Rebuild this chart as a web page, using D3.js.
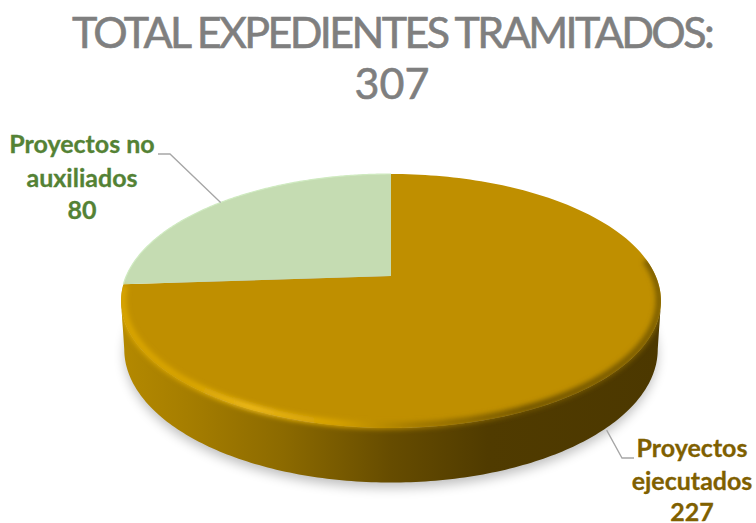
<!DOCTYPE html>
<html><head><meta charset="utf-8">
<script src="https://cdn.jsdelivr.net/npm/d3@7"></script>
<style>html,body{margin:0;padding:0;background:#fff}svg{display:block}</style>
</head><body><svg id="c" width="756" height="523"></svg>
<script>
const titleLines = ["TOTAL EXPEDIENTES TRAMITADOS:", "307"];
const categories = ["Proyectos ejecutados", "Proyectos no auxiliados"];
const values = [227, 80];
const labelLines = [["Proyectos", "ejecutados", "227"], ["Proyectos no", "auxiliados", "80"]];
const fillColors = ["#bf8f00", "#c5dcb2"];
const textColors = ["#7f6000", "#548235"];

const svg = d3.select("#c");
const defs = svg.append("defs");
const cx = 391, cy = 276, k = 0.1968, depth = 47;
const sx = d3.scaleLinear().domain([-1, 1]).range([cx - 264.7, cx + 264.7]);
const sy = d3.scaleLinear().domain([-1, 1]).range([cy - 122.07, cy + 122.07]);
function proj(a, s = 1, dy = 0, v = 1) {
  const x = Math.sin(a), y = -Math.cos(a), w = 1 - k * y;
  return [cx + (sx(x / w) - cx) * s, cy + (sy(y / w) - cy) * v + dy];
}
const line = d3.line();
const arcPts = (a0, a1, s, dy, v) => d3.range(0, 181).map(i => proj(a0 + (a1 - a0) * i / 180, s, dy, v));
const pie = d3.pie().sort(null).value(d => d)(values);
const TAU = Math.PI * 2;

const wall = defs.append("linearGradient").attr("id", "wall").attr("gradientUnits", "userSpaceOnUse")
  .attr("x1", 121).attr("x2", 661).attr("y1", 0).attr("y2", 0);
[[0, "#b48900"], [.12, "#a67e00"], [.3, "#8c6a00"], [.5, "#664c00"], [.68, "#503b00"], [1, "#4c3800"]]
  .forEach(([o, c]) => wall.append("stop").attr("offset", o).attr("stop-color", c));
const rim = defs.append("linearGradient").attr("id", "rim").attr("gradientUnits", "userSpaceOnUse")
  .attr("x1", 121).attr("x2", 661).attr("y1", 0).attr("y2", 0);
[[0, "#d9a500"], [.12, "#d9a500"], [.24, "#efbb18"], [.4, "#d6a200"], [.55, "#a07800"], [.75, "#6f5300"], [1, "#7d5e00"]]
  .forEach(([o, c]) => rim.append("stop").attr("offset", o).attr("stop-color", c));
defs.append("filter").attr("id", "b6").attr("x", "-20%").attr("y", "-20%").attr("width", "140%").attr("height", "140%")
  .append("feGaussianBlur").attr("stdDeviation", 6);
defs.append("filter").attr("id", "b2").attr("x", "-10%").attr("y", "-10%").attr("width", "120%").attr("height", "120%")
  .append("feGaussianBlur").attr("stdDeviation", 2.6);

// the wall runs between the widest points of the two rims
const wallA0 = Math.acos(-k), wallA1 = TAU - wallA0;
const wallPts = arcPts(wallA0, wallA1, 0.988, depth, 1.05).concat(arcPts(wallA1, wallA0, 1, 0, 1));
const clip = defs.append("clipPath").attr("id", "bodyClip");
clip.append("path").attr("d", line(arcPts(0, TAU, 1, 0, 1)) + "Z");
clip.append("path").attr("d", line(wallPts) + "Z");

// shadow
svg.append("path").attr("d", line(arcPts(0, TAU, 0.985, depth + 5, 1.05)) + "Z")
  .attr("fill", "#000").attr("opacity", .26).attr("filter", "url(#b6)");

// wall
svg.append("path").attr("d", line(wallPts) + "Z").attr("fill", "url(#wall)");

// top face slices
svg.selectAll("path.slice").data(pie).join("path").attr("class", "slice")
  .attr("d", d => line([[cx, cy]].concat(arcPts(d.startAngle, d.endAngle, 1, 0, 1))) + "Z")
  .attr("fill", (d, i) => fillColors[i]);

// soft bevel along the front edge of the gold slice
svg.append("g").attr("clip-path", "url(#bodyClip)").append("path")
  .attr("d", line(arcPts(Math.PI * 0.46, pie[0].endAngle - 0.02, 0.994, -1, 0.992)))
  .attr("fill", "none").attr("stroke", "url(#rim)").attr("stroke-width", 7).attr("filter", "url(#b2)");
// green rim
svg.append("path").attr("d", line(arcPts(pie[1].startAngle, pie[1].endAngle, 1, 0, 1)))
  .attr("fill", "none").attr("stroke", "#cfeac0").attr("stroke-width", 1.2);

// leader lines, anchored on each slice's mid angle
const mid = d => (d.startAngle + d.endAngle) / 2;
const aG = proj(mid(pie[1]));
const aO = proj(mid(pie[0]), 0.988, depth + 6, 1.05);
const leaderG = [[158, 154], [170, 154], aG];
const leaderO = [[aO[0] - 5, aO[1]], [622, 458], [634, 458]];
[leaderG, leaderO].forEach(p => svg.append("path").attr("d", line(p)).attr("fill", "none")
  .attr("stroke", "#a6a6a6").attr("stroke-width", 1.3));

// labels
const labelPos = [[692, [457, 490, 521]], [82, [153, 187, 219]]];
labelLines.forEach((ls, i) => ls.forEach((t, j) => svg.append("text")
  .attr("x", labelPos[i][0]).attr("y", labelPos[i][1][j]).attr("text-anchor", "middle")
  .attr("font-family", "Lato").attr("font-weight", 700).attr("font-size", 25)
  .attr("stroke", textColors[i]).attr("stroke-width", .3)
  .attr("fill", textColors[i]).text(t)));

// title
titleLines.forEach((t, i) => svg.append("text")
  .attr("x", 392).attr("y", [48, 99][i]).attr("text-anchor", "middle")
  .attr("font-family", "Lato").attr("font-size", 43).attr("font-weight", 400)
  .attr("letter-spacing", i === 0 ? -2.6 : 0)
  .attr("stroke", "#7f7f7f").attr("stroke-width", .6)
  .attr("fill", "#7f7f7f").text(t));
</script></body></html>
